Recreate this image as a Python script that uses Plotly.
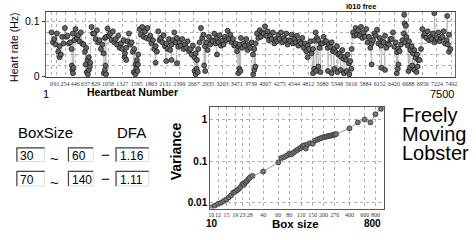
import plotly.graph_objects as go

W, H = 476, 240

# ---------------- top chart: heart rate vs heartbeat number ----------------
rate_a = [  # heartbeats 0, 50, 100, ...
    0.080, 0.068, 0.078, 0.055, 0.072, 0.088, 0.074, 0.062, 0.078, 0.086,
    0.075, 0.080, 0.058, 0.052, 0.035, 0.090, 0.078, 0.084, 0.066, 0.058,
    0.070, 0.087, 0.078, 0.082, 0.068, 0.074, 0.060, 0.066, 0.052, 0.078,
    0.062, 0.050, 0.030, 0.086, 0.090, 0.082, 0.088, 0.074, 0.066, 0.055,
    0.082, 0.070, 0.075, 0.060, 0.068, 0.058, 0.080, 0.070, 0.062, 0.068,
    0.058, 0.064, 0.050, 0.056, 0.042, 0.050, 0.088, 0.076, 0.062, 0.072,
    0.066, 0.078, 0.070, 0.075, 0.065, 0.072, 0.083, 0.076, 0.068, 0.060,
    0.055, 0.070, 0.060, 0.068, 0.058, 0.062, 0.050, 0.078, 0.084, 0.080,
    0.091, 0.082, 0.074, 0.080, 0.068, 0.076, 0.080, 0.070, 0.078, 0.066,
    0.076, 0.068, 0.074, 0.064, 0.070, 0.060, 0.056, 0.064, 0.050, 0.080,
    0.066, 0.060, 0.072, 0.064, 0.058, 0.062, 0.050, 0.055, 0.042, 0.048,
    0.036, 0.040, 0.028, 0.080, 0.088, 0.084, 0.090, 0.080, 0.086, 0.072,
    0.060, 0.078, 0.085, 0.070, 0.064, 0.074, 0.060, 0.068, 0.080, 0.062,
    0.050, 0.058, 0.078, 0.072, 0.064, 0.055, 0.048, 0.040, 0.030, 0.086,
    0.078, 0.082, 0.072, 0.078, 0.068, 0.080, 0.070, 0.082, 0.066, 0.076,
]
rate_b = [  # heartbeats 25, 75, 125, ...
    0.062, 0.058, 0.045, 0.040, 0.060, 0.072, 0.060, 0.050, 0.066, 0.070,
    0.064, 0.060, 0.045, 0.030, 0.025, 0.078, 0.068, 0.062, 0.050, 0.042,
    0.072, 0.074, 0.066, 0.062, 0.058, 0.052, 0.050, 0.042, 0.064, 0.058,
    0.045, 0.022, 0.040, 0.076, 0.072, 0.070, 0.068, 0.060, 0.050, 0.045,
    0.066, 0.062, 0.055, 0.050, 0.048, 0.066, 0.062, 0.054, 0.056, 0.050,
    0.052, 0.046, 0.040, 0.035, 0.030, 0.062, 0.070, 0.055, 0.048, 0.058,
    0.064, 0.060, 0.062, 0.056, 0.058, 0.066, 0.068, 0.062, 0.056, 0.046,
    0.058, 0.052, 0.056, 0.048, 0.052, 0.040, 0.060, 0.070, 0.072, 0.078,
    0.074, 0.066, 0.068, 0.060, 0.064, 0.068, 0.062, 0.066, 0.058, 0.064,
    0.060, 0.062, 0.056, 0.060, 0.052, 0.046, 0.050, 0.042, 0.065, 0.070,
    0.052, 0.060, 0.062, 0.052, 0.054, 0.046, 0.044, 0.040, 0.036, 0.032,
    0.030, 0.024, 0.050, 0.074, 0.076, 0.074, 0.070, 0.072, 0.062, 0.052,
    0.066, 0.074, 0.060, 0.056, 0.062, 0.052, 0.058, 0.068, 0.054, 0.044,
    0.046, 0.066, 0.062, 0.056, 0.048, 0.042, 0.034, 0.030, 0.050, 0.074,
    0.070, 0.066, 0.068, 0.062, 0.070, 0.064, 0.072, 0.060, 0.058, 0.050,
]
hb_a = list(range(0, 7500, 50))
hb_b = list(range(25, 7500, 50))

drop_hb = [150, 380, 390, 400, 410, 640, 660, 680, 700, 720, 980, 1000, 1010, 1020,
           1370, 1400, 1540, 1570, 1590, 1610, 1620, 1950, 2150, 2250, 2350,
           2680, 2700, 2720, 2740, 2860, 2880, 3100, 3500, 3520, 3540, 3780, 3800, 3820,
           4800, 4900, 4920, 4960, 5000, 5040, 5180, 5250, 5300, 5360, 5420, 5480,
           5530, 5580, 5620, 6000, 6180, 6250, 6470, 6490, 6500, 6690, 6720, 6760,
           6800, 6840, 6860, 7450]
drop_rate = [0.035, 0.020, 0.012, 0.006, 0.016, 0.022, 0.008, 0.004, 0.012, 0.018,
             0.006, 0.012, 0.020, 0.004, 0.035, 0.030, 0.008, 0.004, 0.014, 0.010,
             0.022, 0.025, 0.028, 0.030, 0.024, 0.010, 0.004, 0.014, 0.008, 0.020,
             0.010, 0.040, 0.006, 0.014, 0.010, 0.004, 0.012, 0.018, 0.035, 0.006,
             0.014, 0.010, 0.018, 0.008, 0.010, 0.006, 0.014, 0.008, 0.012, 0.006,
             0.010, 0.004, 0.014, 0.022, 0.016, 0.012, 0.006, 0.014, 0.022, 0.010,
             0.016, 0.020, 0.012, 0.008, 0.018, 0.045]
outlier_hb = [6610, 6620, 6640, 7175, 7415]
outlier_rate = [0.112, 0.096, 0.092, 0.115, 0.110]

hb_ticks = [0, 91, 254, 446, 637, 829, 1058, 1327, 1595, 1863, 2131, 2399, 2667,
            2935, 3203, 3471, 3739, 4007, 4275, 4544, 4812, 5080, 5348, 5616, 5884,
            6152, 6420, 6688, 6956, 7224, 7492]

# ---------------- bottom chart: DFA variance vs box size ----------------
box_size = [10, 11, 12, 13, 14, 15, 16, 17, 18, 19, 20, 21, 22, 23, 24, 25, 26, 27,
            28, 30, 40, 60, 65, 70, 75, 80, 85, 90, 95, 100, 105, 110, 115, 120, 125,
            130, 140, 150, 160, 170, 180, 190, 200, 210, 220, 230, 240, 250, 260, 270,
            280, 400, 500, 600, 700, 800, 930]
variance = [0.0077, 0.0085, 0.0094, 0.0100, 0.0110, 0.0120, 0.0135, 0.0150, 0.0175,
            0.0185, 0.0200, 0.0215, 0.0240, 0.0280, 0.0270, 0.0310, 0.0330, 0.0370,
            0.0400, 0.0440, 0.056, 0.093, 0.118, 0.125, 0.135, 0.150, 0.145, 0.160,
            0.175, 0.185, 0.200, 0.210, 0.230, 0.240, 0.200, 0.250, 0.270, 0.260,
            0.310, 0.330, 0.345, 0.360, 0.375, 0.380, 0.390, 0.400, 0.405, 0.415,
            0.425, 0.435, 0.445, 0.61, 0.85, 1.0, 0.85, 1.33, 1.8]
box_ticks = [10, 12, 15, 19, 23, 28, 40, 60, 80, 110, 150, 200, 270, 400, 600, 800]

# DFA panel entries
box_from = ["30", "70"]
box_to = ["60", "140"]
dfa_vals = ["1.16", "1.11"]

# ---------------------------------------------------------------------------
pts = sorted(list(zip(hb_a, rate_a)) + list(zip(hb_b, rate_b)) +
             list(zip(drop_hb, drop_rate)) + list(zip(outlier_hb, outlier_rate)))
hx = [p[0] for p in pts]
hy = [p[1] for p in pts]


def px(x):
    return x / W


def py(y):
    return 1 - y / H


SANS = "Liberation Sans, Arial, sans-serif"
SERIF = "Liberation Serif, serif"

fig = go.Figure()
fig.add_trace(go.Scatter(
    x=hx, y=hy, mode="lines+markers", xaxis="x", yaxis="y",
    line=dict(color="#a0a0a0", width=0.6),
    marker=dict(size=5, color="#666666", line=dict(color="#111111", width=0.7)),
))
fig.add_trace(go.Scatter(
    x=box_size, y=variance, mode="lines+markers", xaxis="x2", yaxis="y2",
    line=dict(color="#9a9a9a", width=1),
    marker=dict(size=5, color="#777777", line=dict(color="#333", width=0.8)),
))

grid = dict(showgrid=True, gridcolor="#b0b0b0", griddash="dot", gridwidth=1)

fig.update_layout(
    width=W, height=H, margin=dict(l=0, r=0, t=0, b=0),
    paper_bgcolor="white", plot_bgcolor="white", showlegend=False,
    xaxis=dict(domain=[px(44), px(457)], range=[-111, 7565], anchor="y",
               tickmode="array", tickvals=hb_ticks, ticktext=[str(v) for v in hb_ticks],
               tickangle=0, tickfont=dict(size=6, family=SERIF, color="#333"),
               ticks="", showline=True, linecolor="#444", linewidth=1, mirror=True,
               zeroline=False, **grid),
    yaxis=dict(domain=[py(79), py(12)], range=[-0.0015, 0.1175], anchor="x",
               tickmode="array", tickvals=[0, 0.1], ticktext=["0", "0.1"],
               tickfont=dict(size=10.5, family=SANS, color="black"),
               ticks="outside", ticklen=3, tickcolor="#333",
               showline=True, linecolor="#666", linewidth=1, mirror=True,
               zeroline=False, **grid,
               minor=dict(tickvals=[0.02, 0.04, 0.06, 0.08], showgrid=True,
                          gridcolor="#b0b0b0", griddash="dot", ticks="")),
    xaxis2=dict(domain=[px(210), px(385)], type="log", range=[0.9885, 3.0], anchor="y2",
                tickmode="array", tickvals=box_ticks, ticktext=[str(v) for v in box_ticks],
                tickangle=0, tickfont=dict(size=6, family=SERIF, color="#333"),
                ticks="", showline=True, linecolor="#555", linewidth=1, mirror=True,
                zeroline=False, **grid),
    yaxis2=dict(domain=[py(213), py(109)], type="log", range=[-2.141, 0.306], anchor="x2",
                tickmode="array", tickvals=[0.01, 0.1, 1], ticktext=["0.01", "0.1", "1"],
                tickfont=dict(size=10, family=SANS, color="black", weight="bold"),
                ticks="", showline=True, linecolor="#555", linewidth=1, mirror=True,
                zeroline=False, **grid),
)

anns = []


def ann(text, x, y, size, xa="left", ya="middle", bold=False, family=SANS,
        angle=0, color="black"):
    anns.append(dict(text=text, x=px(x), y=py(y), xref="paper", yref="paper",
                     xanchor=xa, yanchor=ya, showarrow=False, textangle=angle,
                     borderpad=0,
                     font=dict(size=size, family=family, color=color,
                               weight="bold" if bold else "normal")))


ann("i010 free", 362, 7, 7.5, xa="center", bold=True)
ann("Heart rate (Hz)", 12, 48, 10.5, xa="center", angle=-90)
ann("Heartbeat Number", 132, 94, 10.5, xa="center", bold=True)
ann("1", 44, 96, 11, xa="center")
ann("7500", 457, 96, 11, xa="right")

ann("Variance", 175, 155, 14, xa="center", angle=-90, bold=True)
ann("Box size", 296, 229, 11.5, xa="center", bold=True)
ann("10", 212, 228, 10, xa="center", bold=True)
ann("800", 383, 228, 10, xa="right", bold=True)

ann("Freely", 402, 117, 20)
ann("Moving", 402, 136.5, 20)
ann("Lobster", 402, 156, 20)

ann("BoxSize", 15, 135, 15)
ann("DFA", 115, 135, 15)

shapes = []
rows_y = [(151, 165), (175, 190)]
cols_x = [(15, 43), (67, 92), (115, 148)]
for r, (y0, y1) in enumerate(rows_y):
    texts = [box_from[r], box_to[r], dfa_vals[r]]
    for c, (x0, x1) in enumerate(cols_x):
        shapes.append(dict(type="rect", xref="paper", yref="paper",
                           x0=px(x0), x1=px(x1), y0=py(y1), y1=py(y0),
                           line=dict(color="#dddddd", width=1), fillcolor="white"))
        shapes.append(dict(type="path", xref="paper", yref="paper",
                           path=f"M {px(x0)} {py(y1)} L {px(x0)} {py(y0)} L {px(x1)} {py(y0)}",
                           line=dict(color="#444", width=1.2)))
        ann(texts[c], x0 + 2.5, (y0 + y1) / 2 + 1, 12)
    ann("~", 53, (y0 + y1) / 2 + 4, 15, xa="center")
    ann("\u2212", 104, (y0 + y1) / 2, 15, xa="center")

fig.update_layout(annotations=anns, shapes=shapes)
fig.write_html("out.html", config={"displayModeBar": False},
               post_script="document.body.style.margin='0';"
                           "document.body.style.overflow='hidden';")
